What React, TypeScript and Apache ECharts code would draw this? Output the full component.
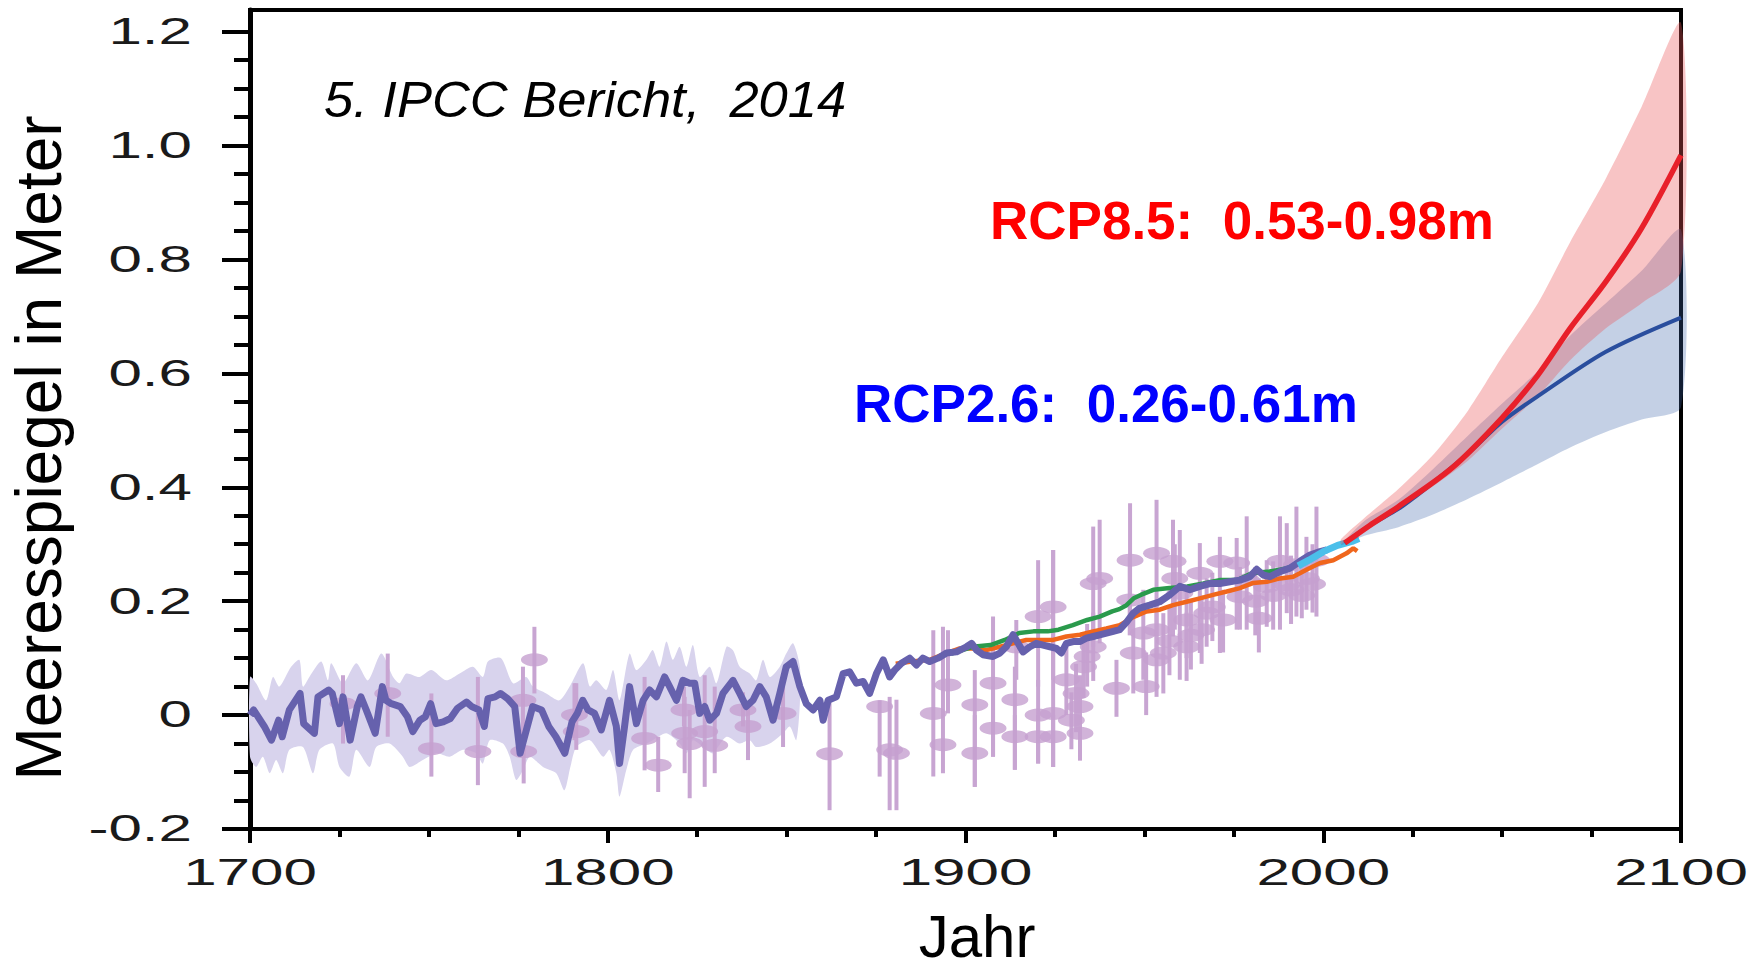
import React, { useEffect, useRef } from "react";
import * as echarts from "echarts";

// ---------- axis ticks / labels ----------
const xTickLabels = [1700, 1800, 1900, 2000, 2100];
const yMajorTicks = [-0.2, 0, 0.2, 0.4, 0.6, 0.8, 1.0, 1.2];
const yTickLabels = ["-0.2", "0", "0.2", "0.4", "0.6", "0.8", "1.0", "1.2"];
const yMinorTicks = [-0.15, -0.1, -0.05, 0.05, 0.1, 0.15, 0.25, 0.3, 0.35, 0.45, 0.5, 0.55, 0.65, 0.7, 0.75, 0.85, 0.9, 0.95, 1.05, 1.1, 1.15];

// ---------- reconstruction (purple) ----------
const reconstruction = [
  [1700, 0.0], [1701, 0.009], [1704, -0.02], [1706, -0.044], [1708, -0.009], [1709, -0.038], [1711, 0.009],
  [1714, 0.038], [1715, -0.015], [1718, -0.032], [1719, 0.032], [1722, 0.044], [1723, 0.038], [1725, -0.015],
  [1726, 0.032], [1728, -0.044], [1730, 0.015], [1731, 0.032], [1732.5, 0.009], [1735, -0.032], [1737, 0.05],
  [1738, 0.026], [1739.5, 0.02], [1742, 0.015], [1744, -0.003], [1745.5, -0.029], [1747.5, -0.009], [1749, -0.003],
  [1750.5, 0.02], [1752, -0.015], [1754, -0.012], [1756, -0.006], [1758, 0.012], [1760.5, 0.023], [1762, 0.015],
  [1764, 0.009], [1765.5, -0.02], [1766.5, 0.029], [1768.5, 0.032], [1770, 0.038], [1772, 0.029], [1774, 0.015],
  [1775.5, -0.067], [1777, -0.032], [1779, 0.015], [1781.5, 0.009], [1783.5, -0.02], [1785.5, -0.038], [1788, -0.067],
  [1790, -0.012], [1791.5, 0.003], [1793, 0.026], [1794.5, 0.009], [1796.3, 0.003], [1798.2, -0.026], [1800.5, 0.026],
  [1802.4, -0.02], [1803.3, -0.085], [1804.7, -0.02], [1806.1, 0.05], [1808, -0.015], [1809.9, 0.026], [1811.7, 0.044],
  [1813.6, 0.032], [1815.9, 0.067], [1817.3, 0.05], [1819.2, 0.026], [1821, 0.061], [1822.9, 0.056], [1824.3, 0.056],
  [1825.7, 0.003], [1827.1, 0.015], [1828.5, -0.009], [1830.4, 0.003], [1832.2, 0.038], [1835, 0.061], [1836.9, 0.038],
  [1838.7, 0.015], [1840.6, 0.026], [1842.5, 0.05], [1844.3, 0.032], [1846.2, -0.009], [1848.1, 0.038], [1849.9, 0.085],
  [1851.8, 0.094], [1853.7, 0.05], [1855.5, 0.02], [1857.4, 0.009], [1859.3, 0.026], [1860.2, -0.009], [1861.6, 0.026],
  [1863.9, 0.032], [1865.8, 0.073], [1867.6, 0.076], [1869.5, 0.056], [1871.4, 0.059], [1873.2, 0.038], [1875.1, 0.073],
  [1877, 0.097], [1878.8, 0.067], [1880.2, 0.079], [1882.1, 0.091], [1884.4, 0.1], [1886.3, 0.088], [1888.1, 0.1],
  [1890, 0.094], [1892.3, 0.1], [1894.7, 0.109], [1897.5, 0.111], [1900.3, 0.12], [1901.7, 0.126], [1903.1, 0.114],
  [1904.9, 0.106], [1907.7, 0.103], [1909.6, 0.109], [1911.4, 0.12], [1913.3, 0.141], [1914.7, 0.126], [1916.1, 0.111],
  [1918, 0.12], [1919.8, 0.126], [1921.7, 0.123], [1923.6, 0.12], [1925.4, 0.117], [1926.8, 0.109], [1928.2, 0.126],
  [1930.1, 0.129], [1931.9, 0.129], [1933.8, 0.135], [1935.7, 0.138], [1937.5, 0.141], [1939.4, 0.144], [1941.3, 0.147],
  [1943.1, 0.15], [1945, 0.163], [1946.9, 0.179], [1948.7, 0.188], [1951.5, 0.193], [1954.3, 0.199], [1957.1, 0.211],
  [1959.9, 0.226], [1962.7, 0.22], [1965.5, 0.226], [1968.3, 0.231], [1971.1, 0.231], [1973.9, 0.234], [1976.7, 0.237],
  [1979.5, 0.243], [1981.4, 0.256], [1983.2, 0.246], [1985.1, 0.243], [1987.9, 0.252], [1990.7, 0.258], [1993.5, 0.27],
  [1996.3, 0.281], [1999.1, 0.287], [2001, 0.29],
];

const reconBandUpper = [
  [1700, 0.067], [1701.7, 0.056], [1704.5, 0.026], [1706.4, 0.067], [1708.2, 0.05], [1711.5, 0.085], [1713.8, 0.097],
  [1714.8, 0.05], [1716.6, 0.067], [1719.9, 0.094], [1721.8, 0.061], [1722.7, 0.091], [1726, 0.056], [1729.7, 0.091],
  [1733, 0.061], [1736.7, 0.108], [1740, 0.067], [1741.8, 0.056], [1743.7, 0.073], [1747.4, 0.067], [1750.7, 0.079],
  [1754.8, 0.061], [1758.6, 0.073], [1762.3, 0.085], [1765.1, 0.067], [1766.5, 0.094], [1770.2, 0.1], [1773.5, 0.056],
  [1777.2, 0.067], [1779.1, 0.05], [1782.8, 0.038], [1786.5, 0.026], [1789.6, 0.053], [1793.1, 0.091], [1795, 0.05],
  [1796.8, 0.061], [1799.6, 0.044], [1801.5, 0.079], [1803.3, 0.026], [1806.1, 0.108], [1808, 0.079], [1810.8, 0.097],
  [1812.6, 0.114], [1814.5, 0.085], [1816.4, 0.129], [1818.2, 0.097], [1820.1, 0.12], [1822, 0.085], [1823.8, 0.123],
  [1825.7, 0.067], [1828.5, 0.085], [1830.4, 0.056], [1833.2, 0.12], [1835, 0.114], [1836.9, 0.085], [1839.7, 0.073],
  [1841.5, 0.061], [1843.4, 0.097], [1845.3, 0.067], [1848.1, 0.085], [1849.9, 0.108], [1851.8, 0.126], [1853.7, 0.085],
];
const reconBandLower = [
  [1700, -0.073], [1701.7, -0.091], [1703.6, -0.073], [1705.5, -0.102], [1707.3, -0.079], [1709.2, -0.102], [1711, -0.061],
  [1714.8, -0.056], [1717.6, -0.102], [1719.4, -0.061], [1723.2, -0.05], [1725, -0.091], [1727.8, -0.108], [1729.7, -0.061],
  [1733.4, -0.091], [1735.3, -0.056], [1739, -0.05], [1742.7, -0.073], [1744.6, -0.091], [1748.3, -0.079], [1752.1, -0.067],
  [1755.8, -0.073], [1759.5, -0.061], [1763.2, -0.067], [1765.1, -0.085], [1767, -0.044], [1770.7, -0.05], [1772.6, -0.073],
  [1774.4, -0.114], [1776.3, -0.097], [1778.2, -0.073], [1781.9, -0.091], [1785.6, -0.102], [1787.9, -0.132], [1789.6, -0.09],
  [1791.2, -0.056], [1795, -0.044], [1798.7, -0.073], [1800.5, -0.061], [1802.4, -0.102], [1803.3, -0.143], [1805.2, -0.096],
  [1807.1, -0.061], [1810.8, -0.05], [1812.6, -0.044], [1816.4, -0.032], [1820.1, -0.05], [1822, -0.067], [1823.8, -0.044],
  [1827.6, -0.061], [1829.4, -0.067], [1833.2, -0.038], [1836.9, -0.05], [1839.7, -0.044], [1841.5, -0.056], [1845.3, -0.05],
  [1849, -0.032], [1850.9, -0.02], [1852.7, -0.044], [1853.7, 0.02],
];

// ---------- other records ----------
const greenRecord = [
  [1896, 0.108], [1902, 0.12], [1907, 0.123], [1911, 0.132], [1915, 0.144], [1919, 0.147], [1923, 0.147], [1926, 0.15],
  [1930, 0.158], [1934, 0.167], [1937.5, 0.173], [1941, 0.182], [1943, 0.186], [1945, 0.193], [1947, 0.205], [1949, 0.211],
  [1952.5, 0.22], [1957, 0.223], [1962, 0.226], [1966.5, 0.231], [1971, 0.237], [1976, 0.237], [1980, 0.249], [1985, 0.252],
  [1990, 0.258], [1993.5, 0.267], [1997, 0.278], [2000, 0.285],
];
const orangeRecord = [
  [1880.5, 0.09], [1885, 0.094], [1890, 0.097], [1894.7, 0.109], [1898.4, 0.117], [1902, 0.117], [1905.8, 0.114],
  [1909.6, 0.12], [1913.3, 0.126], [1917, 0.132], [1920.8, 0.132], [1924.5, 0.132], [1928.2, 0.138], [1932, 0.141],
  [1935.7, 0.147], [1939.4, 0.152], [1943.1, 0.158], [1946.9, 0.172], [1950.6, 0.182], [1954.3, 0.185], [1958, 0.193],
  [1961.8, 0.199], [1965.5, 0.205], [1969.2, 0.211], [1973, 0.217], [1976.7, 0.223], [1980.4, 0.232], [1984.2, 0.234],
  [1987.9, 0.24], [1991.6, 0.243], [1995.3, 0.255], [1999.1, 0.267], [2002.8, 0.272], [2006.5, 0.284], [2008.4, 0.293],
  [2009.5, 0.288],
];
const cyanRecord = [[1993, 0.262], [1996, 0.272], [2000, 0.287], [2004, 0.298], [2008, 0.305], [2010, 0.31]];

// [year, value, low, high]
const proxyPoints = [
  [1726, 0.02, -0.05, 0.07], [1738.5, 0.038, -0.038, 0.108], [1750.7, -0.059, -0.108, 0.038], [1763.7, -0.064, -0.123, 0.067],
  [1776.3, 0.026, -0.04, 0.085], [1776.5, -0.064, -0.12, -0.01], [1779.5, 0.097, 0.038, 0.155], [1790.7, 0.0, -0.044, 0.056],
  [1791.2, -0.029, -0.061, 0.056], [1810.3, -0.041, -0.097, 0.067], [1814.1, -0.088, -0.135, -0.038], [1821.5, -0.032, -0.102, 0.032],
  [1821.3, 0.009, -0.02, 0.05], [1822.9, -0.05, -0.146, 0.009], [1827.1, -0.029, -0.126, 0.07], [1829.9, -0.053, -0.102, 0.05],
  [1837.8, 0.009, -0.02, 0.04], [1839.2, -0.02, -0.079, 0.015], [1849, 0.003, -0.056, 0.05], [1862, -0.068, -0.167, 0.026],
  [1876, 0.015, -0.108, 0.026], [1878.8, -0.061, -0.167, 0.032], [1880.7, -0.067, -0.167, 0.027], [1891, 0.003, -0.108, 0.149],
  [1893.7, -0.052, -0.102, 0.155], [1895.1, 0.053, 0.003, 0.149], [1902.6, 0.018, -0.126, 0.079], [1902.6, -0.067, -0.126, 0.0],
  [1907.7, 0.056, -0.073, 0.173], [1907.7, -0.023, -0.073, 0.05], [1913.8, 0.027, -0.096, 0.085], [1913.8, -0.038, -0.096, 0.0],
  [1920.3, 0.0, -0.085, 0.062], [1920.3, -0.038, -0.085, 0.0], [1924.5, 0.003, -0.091, 0.29], [1924.5, -0.038, -0.091, 0.0],
  [1920.3, 0.173, 0.05, 0.272], [1924.5, 0.19, 0.062, 0.29], [1914.2, 0.12, 0.062, 0.167], [1935.7, 0.231, 0.12, 0.331],
  [1937.5, 0.24, 0.126, 0.343], [1946, 0.272, 0.144, 0.372], [1942.2, 0.047, -0.003, 0.097], [1928.2, 0.062, 0.0, 0.12],
  [1930.9, 0.038, -0.03, 0.09], [1932, 0.015, -0.04, 0.07], [1929.6, -0.009, -0.06, 0.04], [1933, 0.085, 0.03, 0.14],
  [1934, 0.103, 0.05, 0.16], [1935.7, 0.12, 0.06, 0.18], [1932, -0.032, -0.08, 0.01], [1946.9, 0.109, 0.038, 0.179],
  [1945.9, 0.202, 0.14, 0.278], [1949.7, 0.144, 0.062, 0.22], [1953.4, 0.284, 0.18, 0.378], [1953.4, 0.15, 0.1, 0.2],
  [1953.4, 0.097, 0.032, 0.179], [1955.3, 0.109, 0.038, 0.179], [1958, 0.27, 0.138, 0.343], [1958.5, 0.24, 0.15, 0.3],
  [1959.9, 0.214, 0.062, 0.325], [1961.8, 0.167, 0.1, 0.22], [1961.8, 0.12, 0.06, 0.18], [1965.5, 0.249, 0.109, 0.302],
  [1967.4, 0.179, 0.12, 0.24], [1971.1, 0.27, 0.109, 0.313], [1972, 0.167, 0.11, 0.22], [1975.8, 0.267, 0.15, 0.311],
  [1976.7, 0.208, 0.15, 0.26], [1978.6, 0.237, 0.15, 0.349], [1984.2, 0.226, 0.155, 0.272], [1987.9, 0.27, 0.15, 0.349],
  [1989.8, 0.229, 0.179, 0.337], [1992.5, 0.264, 0.173, 0.366], [1995.3, 0.24, 0.185, 0.313], [1998.1, 0.272, 0.173, 0.366],
  [1950.5, 0.05, 0.0, 0.11], [1957, 0.13, 0.07, 0.19], [1963, 0.14, 0.08, 0.2], [1966, 0.15, 0.09, 0.21], [1969, 0.19, 0.13, 0.25],
  [1981, 0.2, 0.14, 0.26], [1982, 0.17, 0.11, 0.24], [1986, 0.21, 0.15, 0.27], [1991, 0.22, 0.16, 0.28], [1994, 0.21, 0.17, 0.27],
  [1997, 0.23, 0.18, 0.3],
];

// ---------- projections ----------
const rcp85 = [[2006, 0.302], [2013, 0.333], [2021, 0.366], [2036, 0.434], [2050, 0.522], [2060, 0.597], [2069, 0.679], [2079, 0.761], [2089, 0.855], [2100, 0.983]];
const rcp85Upper = [[2005, 0.309], [2011.5, 0.346], [2021, 0.397], [2031, 0.459], [2040.5, 0.535], [2050, 0.629], [2060, 0.723], [2069, 0.83], [2079, 0.942], [2089, 1.068], [2100, 1.215]];
const rcp85Lower = [[2005, 0.3], [2011.5, 0.328], [2021, 0.359], [2031, 0.403], [2040.5, 0.447], [2050, 0.503], [2060, 0.56], [2069, 0.623], [2079, 0.679], [2089, 0.723], [2100, 0.78]];
const rcp26 = [[2006, 0.302], [2013, 0.333], [2021, 0.362], [2026, 0.385], [2033, 0.42], [2041, 0.462], [2050, 0.515], [2060, 0.56], [2079, 0.638], [2100, 0.698]];
const rcp26Upper = [[2005, 0.3], [2011.5, 0.341], [2021, 0.378], [2031, 0.434], [2040.5, 0.491], [2050, 0.547], [2060, 0.604], [2069, 0.666], [2079, 0.723], [2089, 0.78], [2100, 0.852]];
const rcp26Lower = [[2005, 0.298], [2011.5, 0.315], [2021, 0.33], [2031, 0.353], [2040.5, 0.38], [2050, 0.409], [2060, 0.441], [2069, 0.47], [2079, 0.497], [2089, 0.519], [2100, 0.541]];

const FONT = "'Liberation Sans', Arial, Helvetica, sans-serif";

function bandSeries(upper: number[][], lower: number[][], fill: string, z: number) {
  return {
    type: "custom",
    coordinateSystem: "cartesian2d",
    data: [[upper[0][0], upper[0][1]]],
    encode: { x: 0, y: 1 },
    z,
    silent: true,
    renderItem: (_params: any, api: any) => {
      const pts = upper.map((p) => api.coord(p)).concat(lower.slice().reverse().map((p) => api.coord(p)));
      return { type: "polygon", shape: { points: pts, smooth: 0.25 }, style: { fill, stroke: "none" } };
    },
  };
}

export default function App() {
  const ref = useRef<HTMLDivElement>(null);

  useEffect(() => {
    if (!ref.current) return;
    const chart = echarts.init(ref.current, null, { renderer: "svg" });

    const option: any = {
      animation: false,
      backgroundColor: "#ffffff",
      grid: { left: 250, right: 79, top: 10, bottom: 148, show: true, borderColor: "#000", borderWidth: 4, backgroundColor: "transparent" },
      xAxis: {
        type: "value",
        min: 1700,
        max: 2100,
        interval: 100,
        axisLine: { show: true, onZero: false, lineStyle: { color: "#000", width: 4 } },
        axisTick: { show: true, length: 14, lineStyle: { color: "#000", width: 4 } },
        minorTick: { show: true, splitNumber: 4, length: 8, lineStyle: { color: "#000", width: 4 } },
        axisLabel: { show: false },
        splitLine: { show: false },
      },
      yAxis: [
        {
          type: "value",
          min: -0.2,
          max: 1.238,
          axisLine: { show: true, onZero: false, lineStyle: { color: "#000", width: 5 } },
          axisTick: { show: true, length: 28, customValues: yMajorTicks, lineStyle: { color: "#000", width: 4 } },
          axisLabel: { show: false },
          splitLine: { show: false },
        },
        {
          type: "value",
          min: -0.2,
          max: 1.238,
          position: "left",
          axisLine: { show: false, onZero: false },
          axisTick: { show: true, length: 16, customValues: yMinorTicks, lineStyle: { color: "#000", width: 4 } },
          axisLabel: { show: false },
          splitLine: { show: false },
        },
      ],
      series: [
        bandSeries(reconBandUpper, reconBandLower, "#d8d3ed", 1),
        {
          type: "custom",
          name: "proxy-bars",
          coordinateSystem: "cartesian2d",
          data: proxyPoints,
          encode: { x: 0, y: 1 },
          z: 2,
          silent: true,
          renderItem: (_p: any, api: any) => {
            const x = api.value(0);
            const a = api.coord([x, api.value(2)]);
            const b = api.coord([x, api.value(3)]);
            return { type: "line", shape: { x1: a[0], y1: a[1], x2: b[0], y2: b[1] }, style: { stroke: "#c8a5d2", lineWidth: 4 } };
          },
        },
        {
          type: "scatter",
          name: "proxy",
          data: proxyPoints.map((d) => [d[0], d[1]]),
          symbol: "circle",
          symbolSize: [27, 13],
          itemStyle: { color: "#c5a0cf" },
          z: 3,
          silent: true,
        },
        { type: "line", name: "orange", data: orangeRecord, showSymbol: false, lineStyle: { color: "#f0661c", width: 4.5 }, z: 4, silent: true },
        { type: "line", name: "green", data: greenRecord, showSymbol: false, lineStyle: { color: "#2a9a4c", width: 4.5 }, z: 4, silent: true },
        { type: "line", name: "reconstruction", data: reconstruction, showSymbol: false, lineStyle: { color: "#6661ad", width: 7, join: "round" }, z: 5, silent: true },
        { type: "line", name: "satellite", data: cyanRecord, showSymbol: false, lineStyle: { color: "#4bbfea", width: 7 }, z: 6, silent: true },
        bandSeries(rcp26Upper, rcp26Lower, "rgba(60,100,170,0.30)", 7),
        bandSeries(rcp85Upper, rcp85Lower, "rgba(235,85,90,0.35)", 8),
        { type: "line", name: "RCP2.6", data: rcp26, smooth: 0.3, showSymbol: false, lineStyle: { color: "#2a4e9e", width: 4 }, z: 9, silent: true },
        { type: "line", name: "RCP8.5", data: rcp85, smooth: 0.3, showSymbol: false, lineStyle: { color: "#e8202a", width: 5.5 }, z: 10, silent: true },
      ],
    };
    chart.setOption(option);

    const graphics: any[] = [];
    xTickLabels.forEach((v) => {
      const px = chart.convertToPixel({ xAxisIndex: 0 }, v) as number;
      graphics.push({
        type: "text", x: px, y: 873, scaleX: 1.67, silent: true,
        style: { text: String(v), font: `36px ${FONT}`, fill: "#1a1a1a", align: "center", verticalAlign: "middle" },
      });
    });
    yMajorTicks.forEach((v, i) => {
      const py = chart.convertToPixel({ yAxisIndex: 0 }, v) as number;
      graphics.push({
        type: "text", x: 192, y: py, scaleX: 1.67, silent: true,
        style: { text: yTickLabels[i], font: `36px ${FONT}`, fill: "#1a1a1a", align: "right", verticalAlign: "middle" },
      });
    });
    graphics.push(
      { type: "text", x: 977, y: 936, silent: true, style: { text: "Jahr", font: `60px ${FONT}`, fill: "#000", align: "center", verticalAlign: "middle" } },
      { type: "text", x: 39, y: 448, rotation: Math.PI / 2, silent: true, style: { text: "Meeresspiegel in Meter", font: `64px ${FONT}`, fill: "#000", align: "center", verticalAlign: "middle" } },
      { type: "text", x: 324, y: 100, scaleX: 1.05, silent: true, style: { text: "5. IPCC Bericht,  2014", font: `italic 50px ${FONT}`, fill: "#000", align: "left", verticalAlign: "middle" } },
      { type: "text", x: 990, y: 220, silent: true, style: { text: "RCP8.5:  0.53-0.98m", font: `bold 53px ${FONT}`, fill: "#ff0000", align: "left", verticalAlign: "middle" } },
      { type: "text", x: 854, y: 403, silent: true, style: { text: "RCP2.6:  0.26-0.61m", font: `bold 53px ${FONT}`, fill: "#0000ff", align: "left", verticalAlign: "middle" } },
    );
    chart.setOption({ graphic: graphics });

    return () => chart.dispose();
  }, []);

  return <div ref={ref} style={{ position: "absolute", left: 0, top: 0, width: 1760, height: 977 }} />;
}
